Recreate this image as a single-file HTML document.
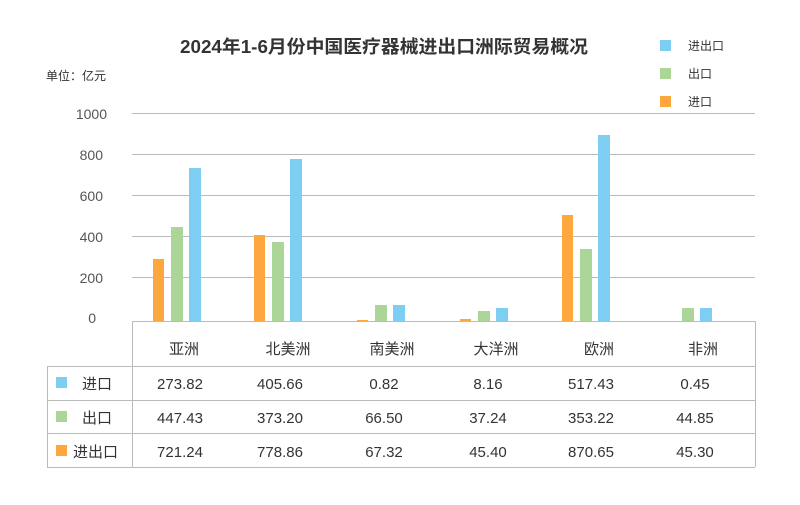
<!DOCTYPE html>
<html><head><meta charset="utf-8"><style>
body{margin:0;background:#fff;font-family:"Liberation Sans","Noto Sans CJK SC",sans-serif;}
</style></head><body>
<svg width="800" height="500" xmlns="http://www.w3.org/2000/svg" font-family="Liberation Sans, Noto Sans CJK SC, sans-serif">
<rect width="800" height="500" fill="#fff"/>
<text x="384" y="53" text-anchor="middle" font-size="18" font-weight="bold" fill="#333" textLength="408" lengthAdjust="spacingAndGlyphs">2024年1-6月份中国医疗器械进出口洲际贸易概况</text>
<text x="46" y="80" font-size="12" fill="#333">单位：亿元</text>
<rect x="660" y="40" width="11" height="11" fill="#7ecef4"/><text x="688" y="50" font-size="12" fill="#333">进出口</text>
<rect x="660" y="68" width="11" height="11" fill="#acd598"/><text x="688" y="78" font-size="12" fill="#333">出口</text>
<rect x="660" y="96" width="11" height="11" fill="#fea73e"/><text x="688" y="106" font-size="12" fill="#333">进口</text>
<g stroke="#bbb" stroke-width="1">
<line x1="132" y1="113.5" x2="755" y2="113.5"/><line x1="132" y1="154.5" x2="755" y2="154.5"/><line x1="132" y1="195.5" x2="755" y2="195.5"/><line x1="132" y1="236.5" x2="755" y2="236.5"/><line x1="132" y1="277.5" x2="755" y2="277.5"/>
</g>
<g font-size="14" fill="#555" text-anchor="end">
<text x="107" y="119">1000</text><text x="103" y="160">800</text><text x="103" y="201">600</text><text x="103" y="242">400</text><text x="103" y="283">200</text><text x="96" y="323">0</text>
</g>
<g>
<rect x="153" y="259" width="11" height="62" fill="#fea73e"/><rect x="171" y="227" width="12" height="94" fill="#acd598"/><rect x="189" y="168" width="12" height="153" fill="#7ecef4"/>
<rect x="254" y="235" width="11" height="86" fill="#fea73e"/><rect x="272" y="242" width="12" height="79" fill="#acd598"/><rect x="290" y="159" width="12" height="162" fill="#7ecef4"/>
<rect x="357" y="320" width="11" height="1" fill="#fea73e"/><rect x="375" y="305" width="12" height="16" fill="#acd598"/><rect x="393" y="305" width="12" height="16" fill="#7ecef4"/>
<rect x="460" y="319" width="11" height="2" fill="#fea73e"/><rect x="478" y="311" width="12" height="10" fill="#acd598"/><rect x="496" y="308" width="12" height="13" fill="#7ecef4"/>
<rect x="562" y="215" width="11" height="106" fill="#fea73e"/><rect x="580" y="249" width="12" height="72" fill="#acd598"/><rect x="598" y="135" width="12" height="186" fill="#7ecef4"/>
<rect x="682" y="308" width="12" height="13" fill="#acd598"/><rect x="700" y="308" width="12" height="13" fill="#7ecef4"/>
</g>
<g stroke="#bbb" stroke-width="1" fill="none">
<line x1="132" y1="321.5" x2="755" y2="321.5"/>
<line x1="47" y1="366.5" x2="755" y2="366.5"/><line x1="47" y1="400.5" x2="755" y2="400.5"/><line x1="47" y1="433.5" x2="755" y2="433.5"/><line x1="47" y1="467.5" x2="755" y2="467.5"/>
<line x1="132.5" y1="321" x2="132.5" y2="467"/><line x1="755.5" y1="321" x2="755.5" y2="467"/><line x1="47.5" y1="366" x2="47.5" y2="467"/>
</g>
<g font-size="15" fill="#333" text-anchor="middle">
<text x="184" y="354">亚洲</text><text x="288" y="354">北美洲</text><text x="392" y="354">南美洲</text><text x="496" y="354">大洋洲</text><text x="599" y="354">欧洲</text><text x="703" y="354">非洲</text>
<text x="180" y="389">273.82</text><text x="280" y="389">405.66</text><text x="384" y="389">0.82</text><text x="488" y="389">8.16</text><text x="591" y="389">517.43</text><text x="695" y="389">0.45</text>
<text x="180" y="423">447.43</text><text x="280" y="423">373.20</text><text x="384" y="423">66.50</text><text x="488" y="423">37.24</text><text x="591" y="423">353.22</text><text x="695" y="423">44.85</text>
<text x="180" y="457">721.24</text><text x="280" y="457">778.86</text><text x="384" y="457">67.32</text><text x="488" y="457">45.40</text><text x="591" y="457">870.65</text><text x="695" y="457">45.30</text>
</g>
<rect x="56" y="377" width="11" height="11" fill="#7ecef4"/><text x="82" y="389" font-size="15" fill="#333">进口</text>
<rect x="56" y="411" width="11" height="11" fill="#acd598"/><text x="82" y="423" font-size="15" fill="#333">出口</text>
<rect x="56" y="445" width="11" height="11" fill="#fea73e"/><text x="73" y="457" font-size="15" fill="#333">进出口</text>
</svg>
</body></html>
